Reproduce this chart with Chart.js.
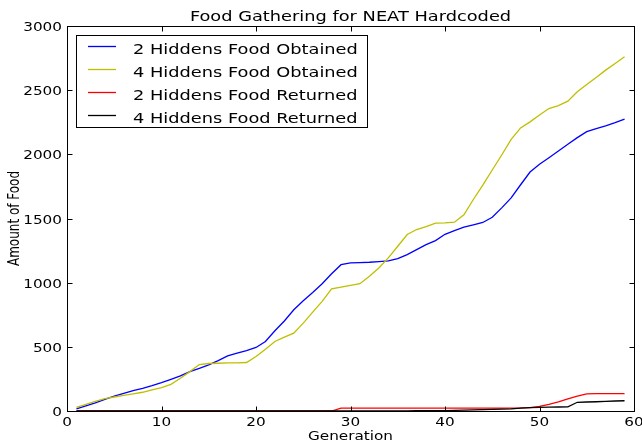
<!DOCTYPE html>
<html>
<head>
<meta charset="utf-8">
<script src="https://cdn.jsdelivr.net/npm/chart.js@4/dist/chart.umd.min.js"></script>
<style>
  html, body { margin: 0; padding: 0; background: #ffffff; }
  #wrap { width: 642px; height: 445px; }
</style>
</head>
<body>
<div id="wrap"><canvas id="food" width="642" height="445"></canvas></div>
<script>
// Generations (x values)
const generations = [1,2,3,4,5,6,7,8,9,10,11,12,13,14,15,16,17,18,19,20,
  21,22,23,24,25,26,27,28,29,30,31,32,33,34,35,36,37,38,39,40,
  41,42,43,44,45,46,47,48,49,50,51,52,53,54,55,56,57,58,59];

const twoHiddensObtained = [16,39,63,91,115,138,159,177,198,221,247,273,307,333,359,393,430,451,471,495,
  542,625,701,789,859,924,992,1070,1140,1154,1156,1159,1164,1169,1187,1219,1258,1297,1328,1377,
  1406,1432,1450,1469,1510,1583,1661,1763,1862,1922,1974,2026,2078,2130,2177,2200,2221,2247,2275];

const fourHiddensObtained = [29,52,75,96,109,122,133,146,164,182,208,255,307,362,370,372,375,375,378,424,
  482,542,576,607,685,771,854,951,966,979,992,1050,1115,1193,1284,1375,1414,1437,1464,1466,
  1471,1529,1648,1760,1878,1995,2117,2206,2253,2307,2357,2380,2414,2487,2544,2599,2656,2708,2760];

const twoHiddensReturned = [0,0,0,0,0,0,0,0,0,0,0,0,0,0,0,0,0,0,0,0,
  0,0,0,0,0,0,0,0,22,23,23,23,23,23,23,23,23,23,23,23,
  23,23,23,23,23,23,23,24,27,36,52,72,94,116,134,135,135,135,135];

const fourHiddensReturned = [0,0,0,0,0,0,0,0,0,0,0,0,0,0,0,0,0,0,0,0,
  0,0,0,0,0,0,0,0,0,0,0,0,0,0,1,1,2,2,3,3,
  5,7,9,11,13,15,17,22,26,29,30,31,32,68,70,72,75,78,80];

const seriesLabels = ['2 Hiddens Food Obtained', '4 Hiddens Food Obtained',
                      '2 Hiddens Food Returned', '4 Hiddens Food Returned'];
const xTickValues = [0, 10, 20, 30, 40, 50, 60];
const yTickValues = [0, 500, 1000, 1500, 2000, 2500, 3000];

const chartTitle = 'Food Gathering for NEAT Hardcoded';
const xTitle = 'Generation';
const yTitle = 'Amount of Food';

const FONT = "'DejaVu Sans', 'Liberation Sans', sans-serif";
const SX = 1.27;   // horizontal text stretch

function pts(values) {
  return values.map((v, i) => ({ x: generations[i], y: v }));
}

function wideText(ctx, str, x, y, align, size) {
  ctx.save();
  ctx.font = size + 'px ' + FONT;
  ctx.textAlign = align;
  ctx.textBaseline = 'alphabetic';
  ctx.fillStyle = '#000000';
  ctx.translate(x, y);
  ctx.scale(SX, 1);
  ctx.fillText(str, 0, 0);
  ctx.restore();
}

// Frame, inward ticks, labels, titles and legend
const decorations = {
  id: 'decorations',
  afterDatasetsDraw(chart) {
    const ctx = chart.ctx;
    const area = chart.chartArea;
    const xs = chart.scales.x, ys = chart.scales.y;
    const L = Math.round(area.left) + 0.5, R = Math.round(area.right) + 0.5;
    const T = Math.round(area.top) + 0.5, B = Math.round(area.bottom) + 0.5;
    const tk = 5;

    ctx.save();
    ctx.strokeStyle = '#000000';
    ctx.lineWidth = 1;
    ctx.strokeRect(L, T, R - L, B - T);

    ctx.beginPath();
    xTickValues.forEach(v => {
      const px = Math.round(xs.getPixelForValue(v)) + 0.5;
      ctx.moveTo(px, B); ctx.lineTo(px, B - tk);
      ctx.moveTo(px, T); ctx.lineTo(px, T + tk);
    });
    yTickValues.forEach(v => {
      const py = Math.round(ys.getPixelForValue(v)) + 0.5;
      ctx.moveTo(L, py); ctx.lineTo(L + tk, py);
      ctx.moveTo(R, py); ctx.lineTo(R - tk, py);
    });
    ctx.stroke();
    ctx.restore();

    xTickValues.forEach(v => {
      wideText(ctx, String(v), xs.getPixelForValue(v), area.bottom + 14.5, 'center', 12);
    });
    yTickValues.forEach(v => {
      wideText(ctx, String(v), area.left - 5, ys.getPixelForValue(v) + 5, 'right', 12);
    });

    const cx = (area.left + area.right) / 2;
    wideText(ctx, chartTitle, cx, 20.7, 'center', 14);
    wideText(ctx, xTitle, cx, 439.5, 'center', 12);

    ctx.save();
    ctx.font = '12px ' + FONT;
    ctx.textAlign = 'center';
    ctx.textBaseline = 'alphabetic';
    ctx.fillStyle = '#000000';
    ctx.translate(18.5, (area.top + area.bottom) / 2);
    ctx.scale(SX, 1);
    ctx.rotate(-Math.PI / 2);
    ctx.fillText(yTitle, 0, 0);
    ctx.restore();

    // legend
    const lx = 76.5, ly = 35.5, lw = 291, lh = 92;
    ctx.save();
    ctx.fillStyle = '#ffffff';
    ctx.fillRect(lx, ly, lw, lh);
    ctx.strokeStyle = '#000000';
    ctx.lineWidth = 1;
    ctx.strokeRect(lx, ly, lw, lh);
    chart.data.datasets.forEach((ds, i) => {
      const rowY = 46.5 + i * 23;
      ctx.strokeStyle = ds.borderColor;
      ctx.lineWidth = ds.borderWidth;
      ctx.beginPath();
      ctx.moveTo(88, rowY);
      ctx.lineTo(116, rowY);
      ctx.stroke();
      wideText(ctx, ds.label, 133, rowY + 7, 'left', 14);
    });
    ctx.restore();
  }
};

const lineStyle = { borderWidth: 1.3, pointRadius: 0, tension: 0, fill: false };

new Chart(document.getElementById('food'), {
  type: 'line',
  data: {
    datasets: [
      Object.assign({ label: seriesLabels[0], data: pts(twoHiddensObtained), borderColor: '#0000ff', order: 3 }, lineStyle),
      Object.assign({ label: seriesLabels[1], data: pts(fourHiddensObtained), borderColor: '#bfbf00', order: 2 }, lineStyle),
      Object.assign({ label: seriesLabels[2], data: pts(twoHiddensReturned), borderColor: '#ff0000', order: 1 }, lineStyle),
      Object.assign({ label: seriesLabels[3], data: pts(fourHiddensReturned), borderColor: '#000000', order: 0 }, lineStyle)
    ]
  },
  options: {
    responsive: false,
    animation: false,
    layout: { padding: { top: 26, right: 8, left: 0, bottom: 0 } },
    plugins: {
      legend: { display: false },
      title: { display: false },
      tooltip: { enabled: false }
    },
    scales: {
      x: {
        type: 'linear', min: 0, max: 60,
        ticks: { stepSize: 10, display: false },
        grid: { display: false },
        border: { display: false },
        afterFit(s) { s.height = 34; }
      },
      y: {
        type: 'linear', min: 0, max: 3000,
        ticks: { stepSize: 500, display: false },
        grid: { display: false },
        border: { display: false },
        afterFit(s) { s.width = 67; }
      }
    }
  },
  plugins: [decorations]
});
</script>
</body>
</html>
